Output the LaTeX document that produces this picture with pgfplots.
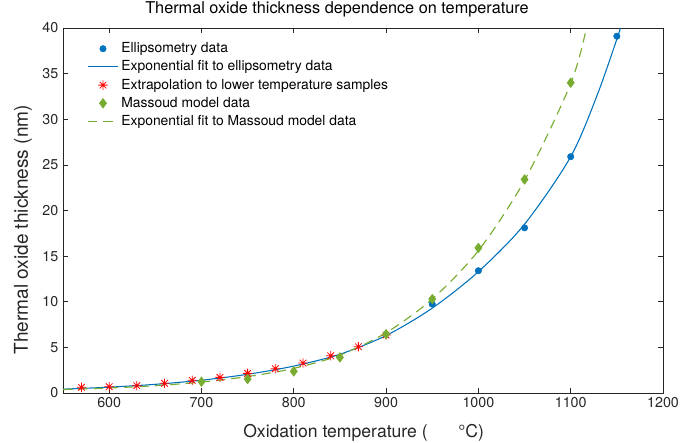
\documentclass[border=0pt]{standalone}
\usepackage{pgfplots}
\pgfplotsset{compat=1.18}
\usepackage{fontspec}
\setmainfont{TeX Gyre Heros}
\definecolor{mblue}{rgb}{0,0.447,0.741}
\definecolor{mgreen}{rgb}{0.466,0.674,0.188}
\definecolor{axgray}{rgb}{0.15,0.15,0.15}
\pgfdeclareplotmark{mstar}{%
  \pgfpathmoveto{\pgfpointpolar{0}{\pgfplotmarksize}}\pgfpathlineto{\pgfpointpolar{180}{\pgfplotmarksize}}%
  \pgfpathmoveto{\pgfpointpolar{90}{\pgfplotmarksize}}\pgfpathlineto{\pgfpointpolar{270}{\pgfplotmarksize}}%
  \pgfpathmoveto{\pgfpointpolar{45}{\pgfplotmarksize}}\pgfpathlineto{\pgfpointpolar{225}{\pgfplotmarksize}}%
  \pgfpathmoveto{\pgfpointpolar{135}{\pgfplotmarksize}}\pgfpathlineto{\pgfpointpolar{315}{\pgfplotmarksize}}%
  \pgfusepathqstroke}
\begin{document}
\begin{tikzpicture}[x=1pt,y=1pt]
\begin{axis}[
  scale only axis, width=450pt, height=273.75pt,
  xmin=550, xmax=1200, ymin=0, ymax=40,
  xtick={600,700,...,1200}, ytick={0,5,...,40},
  tick align=inside, major tick length=4pt,
  axis line style={axgray, line width=0.5pt},
  every tick/.style={axgray, line width=0.5pt},
  tick label style={font=\fontsize{10.7}{12}\selectfont, text=axgray},
  /pgf/number format/assume math mode=true,
  /pgf/number format/1000 sep={},
  title={Thermal oxide thickness dependence on temperature},
  title style={font=\fontsize{12.2}{14}\selectfont, at={(axis description cs:0,1)}, anchor=base west, inner sep=0pt, xshift=61.5pt, yshift=4.5pt},
  xlabel={Oxidation temperature (\hspace{23pt}°C)},
  xlabel style={font=\fontsize{13.2}{15}\selectfont, text=axgray, at={(axis description cs:0,0)}, anchor=base west, inner sep=0pt, xshift=135pt, yshift=-33pt},
  extra description/.code={
    \node[rotate=90, anchor=base, inner sep=0pt, font=\fontsize{14.3}{16}\selectfont, text=axgray] at ([xshift=-26.25pt]axis description cs:0,0.447) {Thermal oxide thickness (nm)};
  },
  legend style={draw=none, fill=none, font=\fontsize{10.4}{12}\selectfont, at={(axis description cs:0.0,1)}, anchor=north west, xshift=15pt, yshift=-6.8pt, row sep=0.55pt, cells={anchor=west}},
  legend image code/.code={\draw[mark repeat=2,mark phase=2,#1] plot coordinates {(0cm,0cm)(0.4cm,0cm)(0.8cm,0cm)};},
  clip=true,
]
\addplot[only marks, mark=*, mark size=2.4pt, mblue, mark options={draw=mblue, fill=mblue}] coordinates {
(950,9.74) (1000,13.4) (1050,18.1) (1100,25.9) (1150,39.1)
};
\addlegendentry{Ellipsometry data}
\addplot[mblue, line width=0.8pt, smooth] coordinates {
(550,0.42) (600,0.64) (650,0.95) (700,1.40) (750,2.05) (800,2.95) (850,4.25) (900,6.3) (950,9.3) (1000,13.3) (1050,18.5) (1100,25.9) (1130,33.0) (1154,40.0)
};
\addlegendentry{Exponential fit to ellipsometry data}
\addplot[only marks, mark=mstar, mark size=3.5pt, red, mark options={line width=0.6pt}] coordinates {
(570,0.62) (600,0.69) (630,0.80) (660,1.06) (690,1.39) (720,1.71) (750,2.15) (780,2.66) (810,3.28) (840,4.08) (870,5.07) (900,6.35)
};
\addlegendentry{Extrapolation to lower temperature samples}
\addplot[only marks, mark=diamond*, mark size=3.6pt, mgreen, mark options={draw=mgreen, fill=mgreen}] coordinates {
(700,1.24) (750,1.53) (800,2.37) (850,3.9) (900,6.45) (950,10.3) (1000,15.9) (1050,23.4) (1100,34.0)
};
\addlegendentry{Massoud model data}
\addplot[mgreen, line width=0.85pt, dash pattern=on 7pt off 4.5pt, smooth] coordinates {
(550,0.38) (600,0.55) (650,0.80) (700,1.20) (750,1.80) (800,2.70) (850,4.15) (900,6.6) (950,10.3) (1000,15.6) (1050,23.3) (1100,33.9) (1117,40.0)
};
\addlegendentry{Exponential fit to Massoud model data}
\end{axis}
\pgfresetboundingbox
\useasboundingbox ([xshift=-47.25pt, yshift=-36.75pt]current axis.south west) rectangle ([xshift=12.75pt, yshift=21pt]current axis.north east);
\end{tikzpicture}
\end{document}
